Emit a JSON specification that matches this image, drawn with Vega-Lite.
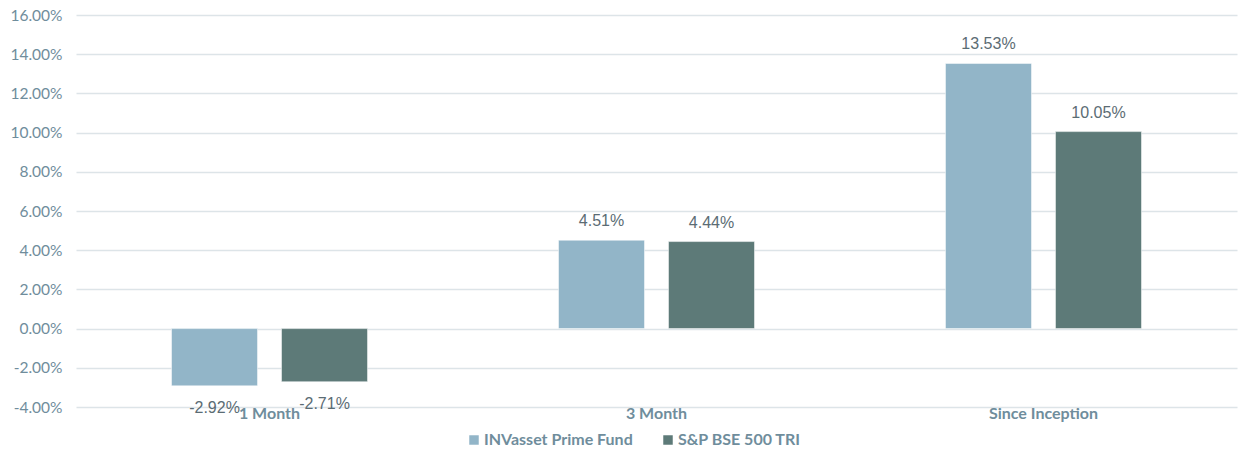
{
  "$schema": "https://vega.github.io/schema/vega-lite/v6.json",
  "autosize": {"type": "none"},
  "padding": {"left": 76, "top": 15, "right": 5, "bottom": 45},
  "width": 1161,
  "height": 392,
  "background": "white",
  "config": {
    "locale": {"number": {"decimal": ".", "thousands": ",", "grouping": [3], "currency": ["$", ""], "minus": "-"}},
    "view": {"stroke": null},
    "axis": {"labelFont": "Lato", "labelFontSize": 15.5, "labelColor": "#6f8d9c"},
    "legend": {"labelFont": "Lato", "labelFontSize": 16, "labelFontWeight": "bold", "labelColor": "#6f8d9c"}
  },
  "data": {
    "values": [
      {"period": "1 Month", "series": "INVasset Prime Fund", "value": -0.0292},
      {"period": "1 Month", "series": "S&P BSE 500 TRI", "value": -0.0271},
      {"period": "3 Month", "series": "INVasset Prime Fund", "value": 0.0451},
      {"period": "3 Month", "series": "S&P BSE 500 TRI", "value": 0.0444},
      {"period": "Since Inception", "series": "INVasset Prime Fund", "value": 0.1353},
      {"period": "Since Inception", "series": "S&P BSE 500 TRI", "value": 0.1005}
    ]
  },
  "encoding": {
    "x": {
      "field": "period", "type": "nominal", "sort": null,
      "scale": {"paddingInner": 0.4935, "paddingOuter": 0.2468},
      "axis": {"title": null, "labelAngle": 0, "ticks": false, "domain": false, "labelPadding": -2, "labelFontWeight": "bold", "labelFontSize": 16, "grid": false}
    },
    "xOffset": {"field": "series", "type": "nominal", "sort": null, "scale": {"paddingInner": 0.218, "paddingOuter": 0}},
    "y": {
      "field": "value", "type": "quantitative",
      "scale": {"domain": [-0.04, 0.16], "nice": false, "zero": false},
      "axis": {"title": null, "format": ".2%", "values": [-0.04, -0.02, 0, 0.02, 0.04, 0.06, 0.08, 0.1, 0.12, 0.14, 0.16], "domain": false, "ticks": false, "labelPadding": 14, "gridColor": "#dde4e8", "gridWidth": 1.6}
    }
  },
  "layer": [
    {
      "mark": {"type": "bar", "stroke": "white", "strokeWidth": 0.5},
      "encoding": {
        "y2": {"datum": 0},
        "color": {
          "field": "series", "type": "nominal", "sort": null,
          "scale": {"domain": ["INVasset Prime Fund", "S&P BSE 500 TRI"], "range": ["#92b5c8", "#5d7a78"]},
          "legend": {"title": null, "orient": "none", "direction": "horizontal", "legendX": 390, "legendY": 417, "symbolType": "square", "symbolSize": 90, "symbolStrokeWidth": 0, "labelOffset": 2, "columnPadding": 27}
        }
      }
    },
    {
      "transform": [{"filter": "datum.value >= 0"}],
      "mark": {"type": "text", "baseline": "bottom", "dy": -11, "font": "Liberation Sans", "fontSize": 16, "color": "#5b6c74"},
      "encoding": {"text": {"field": "value", "type": "quantitative", "format": ".2%"}}
    },
    {
      "transform": [{"filter": "datum.value < 0"}],
      "mark": {"type": "text", "baseline": "top", "dy": 14, "font": "Liberation Sans", "fontSize": 16, "color": "#5b6c74"},
      "encoding": {"text": {"field": "value", "type": "quantitative", "format": ".2%"}}
    }
  ]
}
